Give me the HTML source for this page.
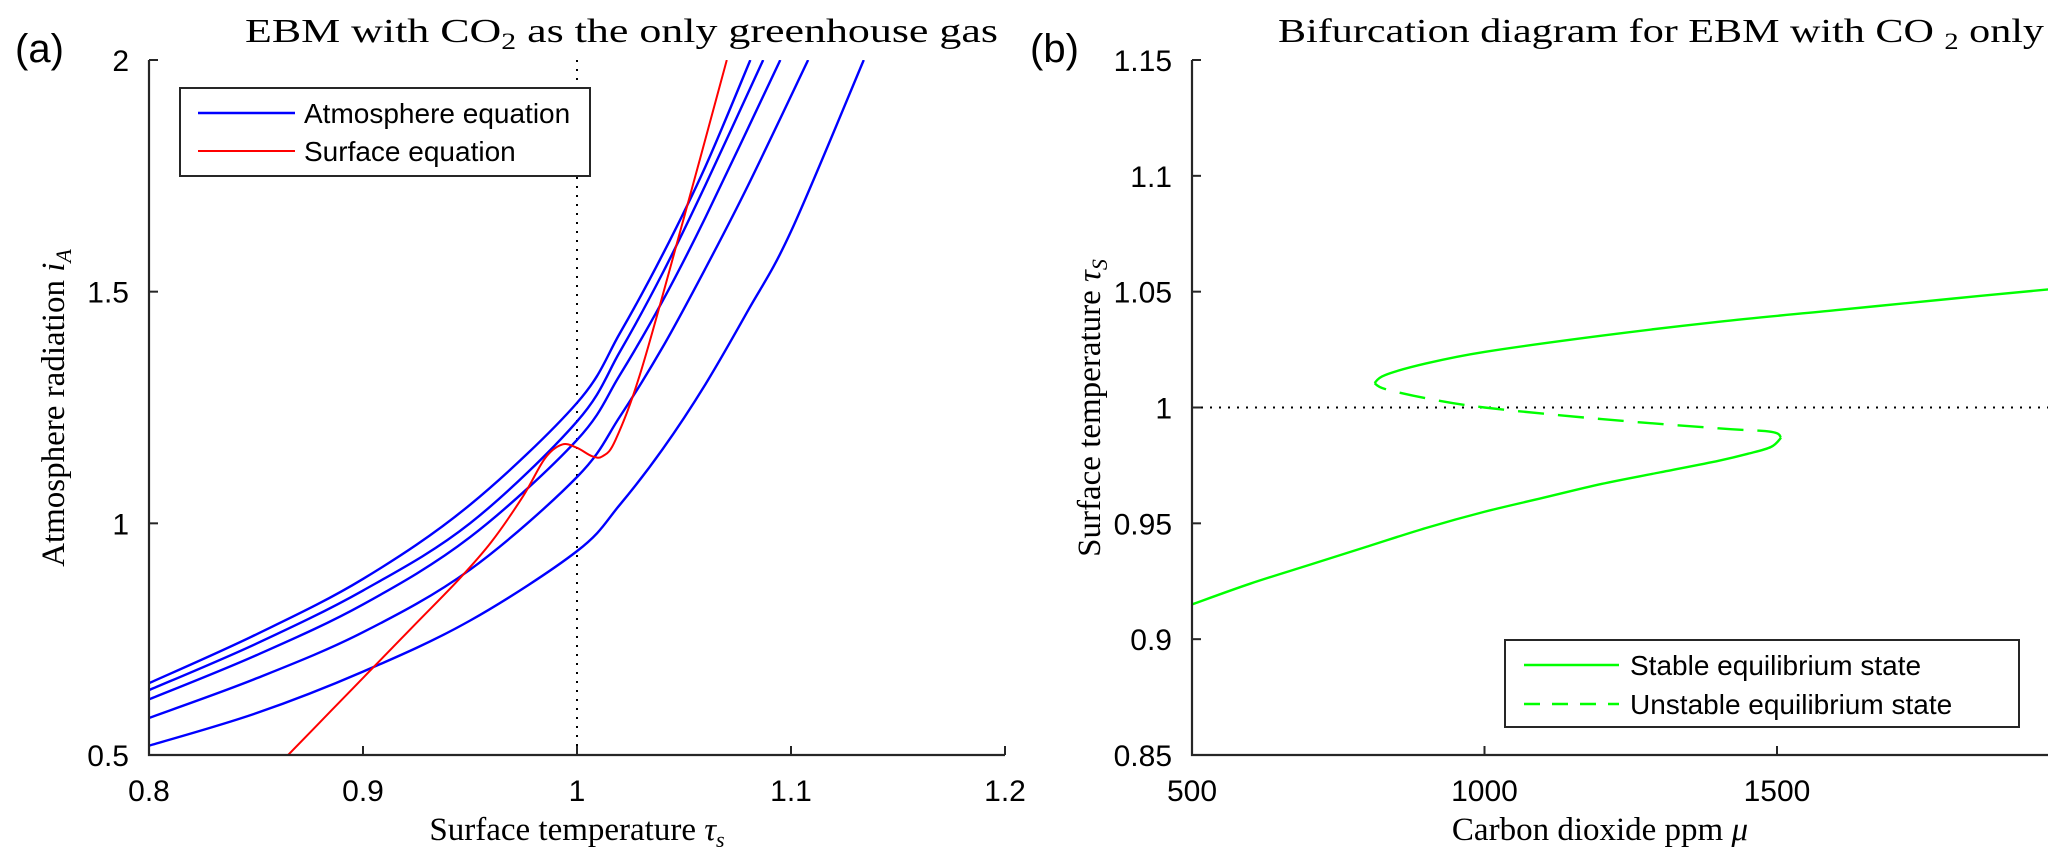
<!DOCTYPE html>
<html><head><meta charset="utf-8"><style>
html,body{margin:0;padding:0;background:#fff;}
svg{display:block;}
text{font-family:"Liberation Sans",Arial,sans-serif;fill:#000;}
.serif{font-family:"Liberation Serif","Times New Roman",serif;}
</style></head><body>
<svg id="fig" width="2067" height="866" viewBox="0 0 2067 866">
<defs>
<clipPath id="clipA"><rect x="149" y="60" width="856" height="695"/></clipPath>
<clipPath id="clipB"><rect x="1192" y="60" width="856" height="695"/></clipPath>
</defs>
<text x="15" y="62" font-size="40">(a)</text>
<text x="1030" y="62" font-size="40">(b)</text>
<text class="serif" x="245" y="42" font-size="34" textLength="753" lengthAdjust="spacingAndGlyphs">EBM with CO<tspan font-size="23" dy="7">2</tspan><tspan dy="-7"> as the only greenhouse gas</tspan></text>
<text class="serif" x="1278" y="42" font-size="34" textLength="766" lengthAdjust="spacingAndGlyphs">Bifurcation diagram for EBM with CO <tspan font-size="23" dy="7">2</tspan><tspan dy="-7"> only</tspan></text>
<text class="serif" x="577" y="840" font-size="33" text-anchor="middle">Surface temperature <tspan font-style="italic">τ</tspan><tspan font-style="italic" font-size="22" dy="7">s</tspan></text>
<text class="serif" x="1600" y="840" font-size="33" text-anchor="middle">Carbon dioxide ppm <tspan font-style="italic">μ</tspan></text>
<text class="serif" transform="translate(64,408) rotate(-90)" font-size="33" text-anchor="middle">Atmosphere radiation <tspan font-style="italic">i</tspan><tspan font-style="italic" font-size="22" dy="7">A</tspan></text>
<text class="serif" transform="translate(1100,408) rotate(-90)" font-size="33" text-anchor="middle">Surface temperature <tspan font-style="italic">τ</tspan><tspan font-style="italic" font-size="22" dy="7">S</tspan></text>
<g id="gA"></g>
<g id="gB"></g>
</svg>
<script>
const leftXTicks=[0.8,0.9,1,1.1,1.2];
const leftXTickLabels=["0.8","0.9","1","1.1","1.2"];
const leftYTicks=[0.5,1,1.5,2];
const leftYTickLabels=["0.5","1","1.5","2"];
const atmTau=[
[0.8,0.85,0.9,0.95,1.0,1.02,1.04,1.06,1.081],
[0.8,0.85,0.9,0.95,1.0,1.02,1.04,1.06,1.087],
[0.8,0.85,0.9,0.95,1.0,1.02,1.04,1.06,1.095],
[0.8,0.85,0.9,0.95,1.0,1.02,1.04,1.06,1.08,1.108],
[0.8,0.85,0.9,0.95,1.0,1.02,1.04,1.06,1.08,1.1,1.134]];
const atmI=[
[0.655,0.76,0.88,1.04,1.26,1.41,1.58,1.77,2.0],
[0.64,0.74,0.855,1.0,1.22,1.37,1.54,1.73,2.0],
[0.62,0.715,0.825,0.97,1.18,1.32,1.48,1.66,2.0],
[0.58,0.665,0.765,0.9,1.10,1.23,1.38,1.55,1.73,2.0],
[0.52,0.59,0.68,0.79,0.94,1.04,1.16,1.30,1.46,1.63,2.0]];
const surfTau=[0.865,0.885,0.905,0.925,0.945,0.96,0.975,0.985,0.993,1.0,1.007,1.012,1.018,1.03,1.05,1.07];
const surfI=[0.5,0.595,0.69,0.785,0.88,0.96,1.06,1.14,1.17,1.163,1.145,1.145,1.18,1.33,1.66,2.0];
const rightXTicks=[500,1000,1500];
const rightXTickLabels=["500","1000","1500"];
const rightYTicks=[0.85,0.9,0.95,1,1.05,1.1,1.15];
const rightYTickLabels=["0.85","0.9","0.95","1","1.05","1.1","1.15"];
const lowerMu=[500,600,700,800,900,1000,1100,1200,1300,1400,1450,1490,1507];
const lowerTau=[0.915,0.924,0.932,0.940,0.948,0.955,0.961,0.967,0.972,0.977,0.980,0.983,0.987];
const unstMu=[1507,1490,1400,1200,1000,900,830,812];
const unstTau=[0.987,0.9895,0.991,0.995,1.0,1.004,1.008,1.0105];
const upperMu=[812,830,900,1000,1200,1400,1600,1800,1965];
const upperTau=[1.0105,1.014,1.019,1.024,1.031,1.037,1.042,1.047,1.051];

const NS="http://www.w3.org/2000/svg";
function mk(tag,attrs,parent){const e=document.createElementNS(NS,tag);for(const k in attrs)e.setAttribute(k,attrs[k]);parent.appendChild(e);return e;}
function crPath(pts){
  let d="M"+pts[0][0].toFixed(2)+","+pts[0][1].toFixed(2);
  for(let i=0;i<pts.length-1;i++){
    const p0=pts[Math.max(0,i-1)],p1=pts[i],p2=pts[i+1],p3=pts[Math.min(pts.length-1,i+2)];
    const c1=[p1[0]+(p2[0]-p0[0])/6,p1[1]+(p2[1]-p0[1])/6];
    const c2=[p2[0]-(p3[0]-p1[0])/6,p2[1]-(p3[1]-p1[1])/6];
    d+="C"+c1[0].toFixed(2)+","+c1[1].toFixed(2)+" "+c2[0].toFixed(2)+","+c2[1].toFixed(2)+" "+p2[0].toFixed(2)+","+p2[1].toFixed(2);
  }
  return d;
}
function makeAxes(g,x0,x1,y0,y1,xs,ys,xt,xl,yt,yl){
  const ax=mk("path",{d:`M${x0},${y0} V${y1} H${x1}`,fill:"none",stroke:"#262626","stroke-width":2.2},g);
  
  
  xt.forEach((v,i)=>{const x=xs(v);
    const t=mk("line",{x1:x,x2:x,y1:y1,y2:y1-9,stroke:"#262626","stroke-width":2},g);
    
    
    const l=mk("text",{x:x,y:y1+46,"font-size":30,"text-anchor":"middle",fill:"#262626"},g);l.textContent=xl[i];
    
    });
  yt.forEach((v,i)=>{const y=ys(v);
    const t=mk("line",{x1:x0,x2:x0+9,y1:y,y2:y,stroke:"#262626","stroke-width":2},g);
    
    
    const l=mk("text",{x:x0-20,y:y+11,"font-size":30,"text-anchor":"end",fill:"#262626"},g);l.textContent=yl[i];
    
    });
}
// left plot
const gA=document.getElementById("gA");
const xA=v=>149+(v-0.8)/0.4*856, yA=v=>755-(v-0.5)/1.5*695;
const dotA=mk("line",{x1:xA(1),x2:xA(1),y1:60,y2:755,stroke:"#000","stroke-width":2,"stroke-dasharray":"2,7"},gA);


const cA=mk("g",{"clip-path":"url(#clipA)"},gA);
atmTau.forEach((ts,k)=>{const p=mk("path",{d:crPath(ts.map((t,i)=>[xA(t),yA(atmI[k][i])])),fill:"none",stroke:"#0000ff","stroke-width":2.4},cA);
  
  });
const rs=mk("path",{d:crPath(surfTau.map((t,i)=>[xA(t),yA(surfI[i])])),fill:"none",stroke:"#ff0000","stroke-width":2},cA);


makeAxes(gA,149,1005,60,755,xA,yA,leftXTicks,leftXTickLabels,leftYTicks,leftYTickLabels);
// legend A
const lgA=mk("g",{},gA);


mk("rect",{x:180,y:88,width:410,height:88,fill:"#fff",stroke:"#262626","stroke-width":2},lgA);
mk("line",{x1:198,x2:295,y1:113,y2:113,stroke:"#0000ff","stroke-width":2.4},lgA);
mk("line",{x1:198,x2:295,y1:151,y2:151,stroke:"#ff0000","stroke-width":2},lgA);
const la1=mk("text",{x:304,y:123,"font-size":28},lgA);la1.textContent="Atmosphere equation";


const la2=mk("text",{x:304,y:161,"font-size":28},lgA);la2.textContent="Surface equation";


// right plot
const gB=document.getElementById("gB");
const xB=v=>1192+(v-500)/500*292.5, yB=v=>755-(v-0.85)/0.3*695;
const dotB=mk("line",{x1:1192,x2:2048,y1:yB(1),y2:yB(1),stroke:"#000","stroke-width":2,"stroke-dasharray":"2,7"},gB);


const cB=mk("g",{"clip-path":"url(#clipB)"},gB);
const gl=mk("path",{d:crPath(lowerMu.map((m,i)=>[xB(m),yB(lowerTau[i])])),fill:"none",stroke:"#00ff00","stroke-width":2.4},cB);


const gu=mk("path",{d:crPath(unstMu.map((m,i)=>[xB(m),yB(unstTau[i])])),fill:"none",stroke:"#00ff00","stroke-width":2.4,"stroke-dasharray":"26,14"},cB);


const gh=mk("path",{d:crPath(upperMu.map((m,i)=>[xB(m),yB(upperTau[i])])),fill:"none",stroke:"#00ff00","stroke-width":2.4},cB);


makeAxes(gB,1192,2048,60,755,xB,yB,rightXTicks,rightXTickLabels,rightYTicks,rightYTickLabels);
// legend B
const lgB=mk("g",{},gB);


mk("rect",{x:1505,y:640,width:514,height:87,fill:"#fff",stroke:"#262626","stroke-width":2},lgB);
mk("line",{x1:1524,x2:1619,y1:665,y2:665,stroke:"#00ff00","stroke-width":2.4},lgB);
mk("line",{x1:1524,x2:1619,y1:704,y2:704,stroke:"#00ff00","stroke-width":2.4,"stroke-dasharray":"16,12"},lgB);
const lb1=mk("text",{x:1630,y:675,"font-size":28},lgB);lb1.textContent="Stable equilibrium state";


const lb2=mk("text",{x:1630,y:714,"font-size":28},lgB);lb2.textContent="Unstable equilibrium state";


</script>
</body></html>
